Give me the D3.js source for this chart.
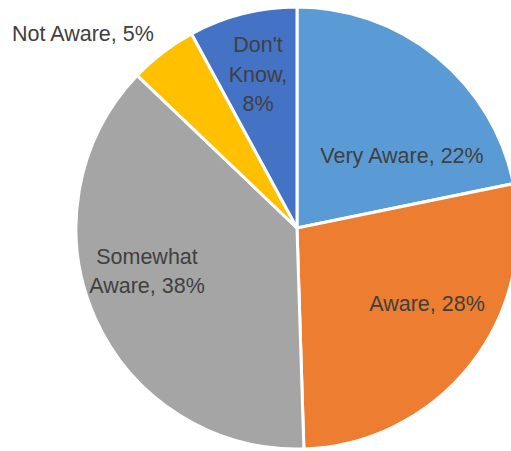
<!DOCTYPE html>
<html>
<head>
<meta charset="utf-8">
<script src="https://cdn.jsdelivr.net/npm/d3@7"></script>
<style>
  body { margin: 0; background: #fff; }
  svg { display: block; }
</style>
</head>
<body>
<svg id="chart" width="511" height="451"></svg>
<script>
const categories = ["Very Aware", "Aware", "Somewhat Aware", "Not Aware", "Don't Know"];
const values = [22, 28, 38, 5, 8];
const colors = ["#5B9BD5", "#ED7D31", "#A5A5A5", "#FFC000", "#4472C4"];
// label lines and their centre relative to pie centre
const labelLines = [["Very Aware, 22%"], ["Aware, 28%"], ["Somewhat", "Aware, 38%"], ["Not Aware, 5%"], ["Don't", "Know,", "8%"]];
const labelOffsets = [[105, -73], [130, 75], [-150, 43], [-285, -195], [-39, -154]];

let svg = d3.select("#chart");
let cx = 297, cy = 228, r = 221;

let pie = d3.pie().sort(null).value(d => d);
let arc = d3.arc().innerRadius(0).outerRadius(r);
let arcs = pie(values);

let g = svg.append("g").attr("transform", `translate(${cx},${cy})`);

g.selectAll("path")
  .data(arcs)
  .join("path")
  .attr("d", arc)
  .attr("fill", (d, i) => colors[i])
  .attr("stroke", "#fff")
  .attr("stroke-width", 3)
  .attr("stroke-linejoin", "round");

let lineH = 29.5;
let labels = g.selectAll("text.lbl")
  .data(arcs)
  .join("text")
  .attr("class", "lbl")
  .attr("text-anchor", (d, i) => i == 3 ? "start" : "middle")
  .attr("font-family", "Liberation Sans, Arial, sans-serif")
  .attr("font-size", 21.5)
  .attr("fill", "#404040");

labels.each(function (d, i) {
  let lines = labelLines[i];
  let [ox, oy] = labelOffsets[i];
  let y0 = oy - (lines.length - 1) * lineH / 2;
  d3.select(this).selectAll("tspan")
    .data(lines)
    .join("tspan")
    .attr("x", ox)
    .attr("y", (t, j) => y0 + j * lineH)
    .attr("dy", "0.35em")
    .text(t => t);
});
</script>
</body>
</html>
